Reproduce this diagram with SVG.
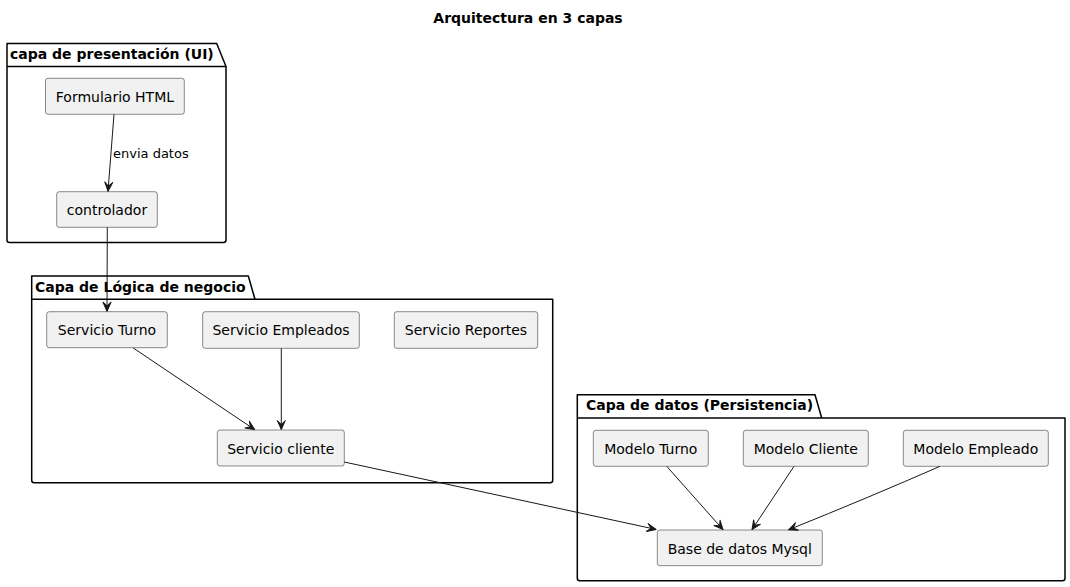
<svg xmlns="http://www.w3.org/2000/svg" width="1070" height="587" viewBox="0 0 1070 587">
<style>
.pkg{fill:none;stroke:#000;stroke-width:1.5;stroke-linejoin:round}
.ptitle{font-family:"DejaVu Sans",sans-serif;font-size:14px;font-weight:bold;fill:#000}
.node rect{fill:#F1F1F1;stroke:#181818;stroke-width:0.5}
.node text{font-family:"DejaVu Sans",sans-serif;font-size:14px;fill:#000;text-anchor:middle}
.edge{fill:none;stroke:#181818;stroke-width:1;marker-end:url(#ah)}
.elabel{font-family:"DejaVu Sans",sans-serif;font-size:13px;fill:#000}
</style>
<defs>
<marker id="ah" viewBox="-1 -1 11 10" refX="9" refY="4" markerWidth="11" markerHeight="10" markerUnits="userSpaceOnUse" orient="auto">
<path d="M0,0 L9,4 L0,8 L4,4 Z" fill="#181818" stroke="#181818" stroke-width="1" stroke-linejoin="round"/>
</marker>
</defs>
<rect width="1070" height="587" fill="#fff"/>
<text x="528" y="22.5" class="ptitle" text-anchor="middle">Arquitectura en 3 capas</text>

<g id="pkg-presentacion">
<path class="pkg" d="M7,43.5 L216.7,43.5 L226,66.5 L226,240 Q226,242.5 223.5,242.5 L9.5,242.5 Q7,242.5 7,240 Z M7,66.5 L226,66.5"/>
<text x="10" y="59" class="ptitle">capa de presentación (UI)</text>
</g>
<g id="pkg-logica">
<path class="pkg" d="M31.7,276 L248.3,276 L255,299.3 L552.7,299.3 L552.7,480.2 Q552.7,482.7 550.2,482.7 L34.2,482.7 Q31.7,482.7 31.7,480.2 Z M31.7,299.3 L255,299.3"/>
<text x="35" y="291.7" class="ptitle">Capa de Lógica de negocio</text>
</g>
<g id="pkg-datos">
<path class="pkg" d="M577.3,394.7 L815,394.7 L821.7,418 L1065,418 L1065,578.2 Q1065,580.7 1062.5,580.7 L579.8,580.7 Q577.3,580.7 577.3,578.2 Z M577.3,418 L821.7,418"/>
<text x="586" y="410.2" class="ptitle">Capa de datos (Persistencia)</text>
</g>

<g id="n-formulario" class="node"><rect x="45.5" y="78.3" width="138.8" height="36" rx="2.5"/><text x="114.9" y="101.8">Formulario HTML</text></g>
<g id="n-controlador" class="node"><rect x="56.7" y="191.7" width="100.6" height="35.6" rx="2.5"/><text x="107" y="215.2">controlador</text></g>
<g id="n-serv-turno" class="node"><rect x="46.7" y="311.7" width="120.6" height="36" rx="2.5"/><text x="107" y="335.2">Servicio Turno</text></g>
<g id="n-serv-empleados" class="node"><rect x="202.7" y="311.7" width="156.6" height="36.6" rx="2.5"/><text x="281" y="335.2">Servicio Empleados</text></g>
<g id="n-serv-reportes" class="node"><rect x="394.3" y="311.7" width="143.4" height="36.6" rx="2.5"/><text x="466" y="335.2">Servicio Reportes</text></g>
<g id="n-serv-cliente" class="node"><rect x="217.3" y="430" width="127" height="36" rx="2.5"/><text x="280.8" y="453.5">Servicio cliente</text></g>
<g id="n-mod-turno" class="node"><rect x="593.3" y="430.3" width="115" height="36" rx="2.5"/><text x="650.8" y="453.8">Modelo Turno</text></g>
<g id="n-mod-cliente" class="node"><rect x="743.3" y="430.3" width="125" height="36" rx="2.5"/><text x="805.8" y="453.8">Modelo Cliente</text></g>
<g id="n-mod-empleado" class="node"><rect x="903.3" y="430.3" width="145" height="36" rx="2.5"/><text x="975.8" y="453.8">Modelo Empleado</text></g>
<g id="n-db" class="node"><rect x="657.3" y="530" width="165" height="35.7" rx="2.5"/><text x="739.8" y="553.5">Base de datos Mysql</text></g>

<g id="connectors">
<path class="edge" d="M114,114.3 L108,191.2"/>
<text x="113" y="158.3" class="elabel">envia datos</text>
<path class="edge" d="M107.3,227.3 L107,311.2"/>
<path class="edge" d="M133.3,348 L254.6,429.6"/>
<path class="edge" d="M281.3,348.3 L281.3,429.5"/>
<path class="edge" d="M344.3,462 L656,529.4"/>
<path class="edge" d="M666.7,466.3 L723,529.6"/>
<path class="edge" d="M794,466.3 L752,529.6"/>
<path class="edge" d="M940,466.3 Q870,497 788.6,529.8"/>
</g>
</svg>
